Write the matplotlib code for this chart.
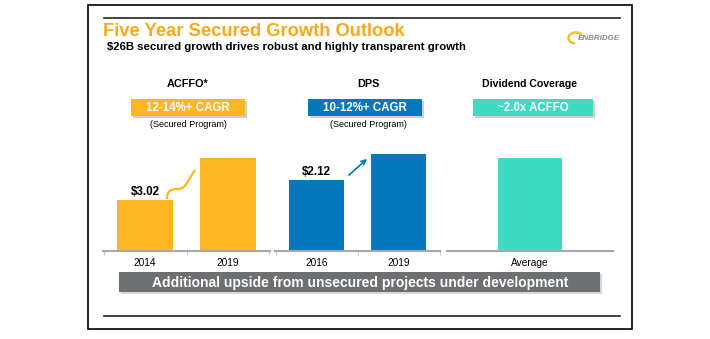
import matplotlib.pyplot as plt
from matplotlib.patches import Rectangle, Arc, PathPatch
from matplotlib.path import Path

plt.rcParams['font.family'] = ['Liberation Sans', 'DejaVu Sans']

# chart data
acffo_years = ['2014', '2019']
acffo_values = [3.02, 5.5]
dps_years = ['2016', '2019']
dps_values = [2.12, 2.90]
coverage_labels = ['Average']
coverage_values = [2.0]

ORANGE = '#FDB722'
TITLE_ORANGE = '#FBA91B'
BLUE = '#0477BD'
TEAL = '#3DDBC2'
BANNER = '#6D6F71'
AXIS_GREY = '#A8A8A8'

W, H = 710, 339
fig = plt.figure(figsize=(W / 100, H / 100), dpi=100)

# background axes in pixel units (y down) for the slide decorations
bg = fig.add_axes([0, 0, 1, 1])
bg.set_xlim(0, W)
bg.set_ylim(H, 0)
bg.axis('off')


def px_axes(x0, x1, ytop, ybot):
    ax = fig.add_axes([x0 / W, 1 - ybot / H, (x1 - x0) / W, (ybot - ytop) / H])
    ax.patch.set_alpha(0)
    return ax


def box(x0, x1, y0, y1, color, text, fs):
    bg.add_patch(Rectangle((x0 + 2, y0 + 2), x1 - x0, y1 - y0, color='#D0D0D0', lw=0))
    bg.add_patch(Rectangle((x0, y0), x1 - x0, y1 - y0, color=color, lw=0))
    bg.text((x0 + x1) / 2, (y0 + y1) / 2 + 0.5, text, color='white', fontsize=fs,
            fontweight='bold', ha='center', va='center')


# frame and rules
bg.add_patch(Rectangle((88, 5), 544, 324, fill=False, ec='black', lw=1.2))
bg.plot([104, 620], [18, 18], color='#222222', lw=1.2)
bg.plot([104, 620], [316, 316], color='#222222', lw=1.2)

bg.text(103, 31, 'Five Year Secured Growth Outlook', color=TITLE_ORANGE, fontsize=13.2,
        fontweight='bold', ha='left', va='center')
bg.text(107, 47, '$26B secured growth drives robust and highly transparent growth',
        fontsize=8.2, fontweight='bold', ha='left', va='center')

# logo
bg.add_patch(Arc((576, 38), 15, 11, theta1=100, theta2=330, color='#F2C230', lw=1.8))
bg.text(578, 38, 'ENBRIDGE', color='#8A8A8A', fontsize=5.8, fontweight='bold',
        fontstyle='italic', ha='left', va='center')

# panel headers
bg.text(188, 84, 'ACFFO*', fontsize=7.8, fontweight='bold', ha='center', va='center')
bg.text(368, 84, 'DPS', fontsize=7.8, fontweight='bold', ha='center', va='center')
bg.text(529, 84, 'Dividend Coverage', fontsize=7.6, fontweight='bold', ha='center', va='center')

box(131, 245, 99, 116, ORANGE, '12-14%+ CAGR', 8.3)
box(308, 422, 99, 116, BLUE, '10-12%+ CAGR', 8.3)
box(473, 593, 99, 116, TEAL, '~2.0x ACFFO', 8.3)
bg.text(188, 124.5, '(Secured Program)', fontsize=6.5, ha='center', va='center')
bg.text(368, 124.5, '(Secured Program)', fontsize=6.5, ha='center', va='center')


def style_panel(ax, n):
    for s in ('top', 'left', 'right'):
        ax.spines[s].set_visible(False)
    ax.spines['bottom'].set_color(AXIS_GREY)
    ax.spines['bottom'].set_linewidth(1.5)
    ax.set_yticks([])
    ax.set_xticks([i - 0.5 for i in range(n + 1)], minor=True)
    ax.tick_params(axis='x', which='major', length=0, labelsize=7.3, pad=5)
    ax.tick_params(axis='x', which='minor', length=3, color='#C8C8C8', width=0.8)


ax1 = px_axes(103, 270, 130, 251)
ax1.bar(acffo_years, acffo_values, width=0.67, color=ORANGE)
ax1.set_xlim(-0.51, 1.51)
ax1.set_ylim(0, 3.02 * 121 / 51)
style_panel(ax1, len(acffo_years))
ax1.annotate(f'${acffo_values[0]:.2f}', (0, acffo_values[0]), xytext=(0, 1.5),
             textcoords='offset points', ha='center', va='bottom', fontsize=8.4,
             fontweight='bold')

ax2 = px_axes(275, 440, 130, 251)
ax2.bar(dps_years, dps_values, width=0.67, color=BLUE)
ax2.set_xlim(-0.51, 1.49)
ax2.set_ylim(0, 2.12 * 121 / 71)
style_panel(ax2, len(dps_years))
ax2.annotate(f'${dps_values[0]:.2f}', (0, dps_values[0]), xytext=(0, 1.5),
             textcoords='offset points', ha='center', va='bottom', fontsize=8.4,
             fontweight='bold')

ax3 = px_axes(447, 613, 130, 251)
ax3.bar(coverage_labels, coverage_values, width=0.39, color=TEAL)
ax3.set_xlim(-0.5, 0.5)
ax3.set_ylim(0, 2.0 * 121 / 93)
style_panel(ax3, 0)
ax3.set_xticks([], minor=True)

# growth swoosh between ACFFO bars
verts = [(167, 199), (167, 190), (172, 189), (178, 189),
         (186, 189), (188, 180), (195, 170)]
codes = [Path.MOVETO] + [Path.CURVE4] * 6
bg.add_patch(PathPatch(Path(verts, codes), fill=False, ec=ORANGE, lw=1.6))

# growth arrow between DPS bars
bg.annotate('', xy=(369, 157), xytext=(347, 177),
            arrowprops=dict(arrowstyle='->', color=BLUE, lw=1.2, mutation_scale=8))

# bottom banner
bg.add_patch(Rectangle((121, 274), 481, 20, color='#D8D8D8', lw=0))
bg.add_patch(Rectangle((119, 272), 481, 20, color=BANNER, lw=0))
bg.text(360, 282.5, 'Additional upside from unsecured projects under development',
        color='white', fontsize=10, fontweight='bold', ha='center', va='center')

fig.savefig('out.png', dpi=100)
